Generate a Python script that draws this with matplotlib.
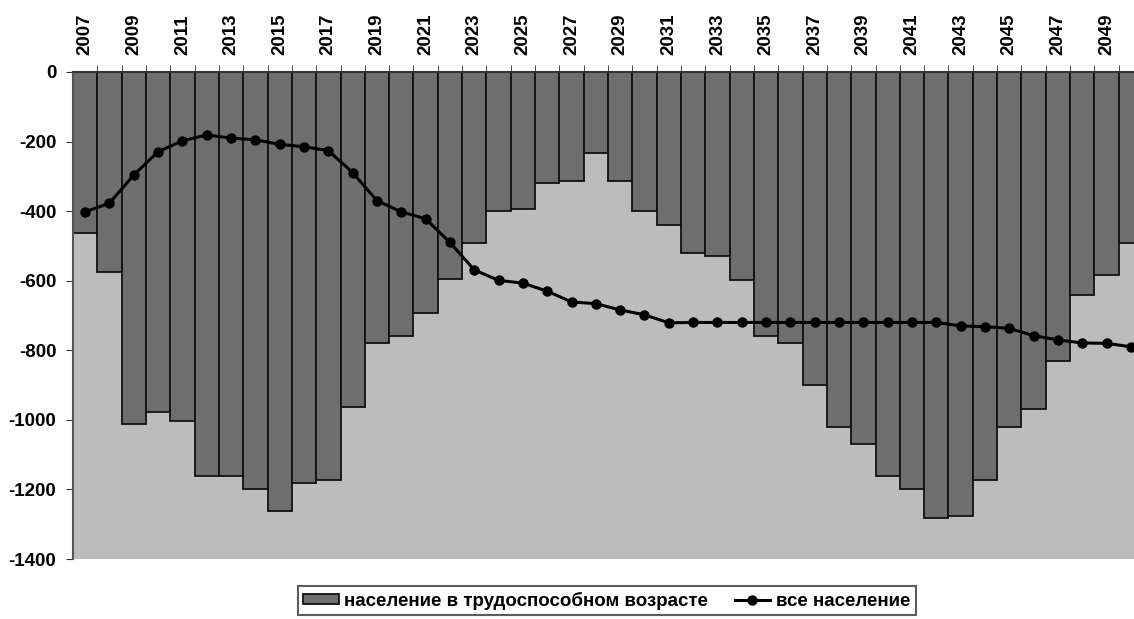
#!/usr/bin/env python3
"""Working-age vs total population change, 2007-2050 (bars + line)."""
import matplotlib
matplotlib.use("Agg")
import matplotlib.pyplot as plt
import numpy as np

years = list(range(2007, 2051))

working_age = [
    -463, -574, -1011, -978, -1002, -1161, -1161, -1199, -1262, -1181,
    -1172, -962, -779, -758, -693, -596, -491, -401, -393, -318,
    -314, -233, -314, -401, -440, -521, -528, -598, -759, -780,
    -899, -1020, -1069, -1160, -1199, -1282, -1276, -1172, -1020, -970,
    -831, -641, -583, -493,
]

total = [
    -402, -377, -296, -229, -198, -181, -190, -195, -208, -215,
    -226, -289, -370, -402, -422, -490, -569, -599, -607, -630,
    -661, -666, -684, -698, -721, -720, -720, -720, -720, -720,
    -720, -720, -720, -720, -720, -720, -730, -732, -737, -758,
    -770, -779, -780, -790,
]

bar_label = "население в трудоспособном возрасте"
line_label = "все население"

plt.rcParams["font.family"] = ["Liberation Sans", "DejaVu Sans"]
plt.rcParams["font.weight"] = "bold"
FS = 13.5

fig = plt.figure(figsize=(11.34, 6.19), dpi=100)
# plot area runs a little past the right edge, as in the cropped original
ax = fig.add_axes([73 / 1134, 1 - 559 / 619, 1070 / 1134, 487 / 619])
ax.set_facecolor("#bcbcbc")

x = np.arange(len(years))
bars = ax.bar(x, working_age, width=1.0, color="#6e6e6e", edgecolor="#111111",
              linewidth=1.3, label=bar_label, zorder=2)
line, = ax.plot(x, total, color="black", linewidth=2.2, marker="o",
                markersize=6.5, label=line_label, zorder=3)

ax.set_xlim(-0.5, len(years) - 0.5)
ax.set_ylim(-1400, 0)
ax.set_yticks(range(-1400, 1, 200))
ax.set_yticklabels([str(v) for v in range(-1400, 1, 200)], fontsize=FS)

ax.xaxis.tick_top()
ax.set_xticks(x[::2])
ax.set_xticklabels([str(y) for y in years[::2]], rotation=90, fontsize=FS)
ax.set_xticks(x[:-1] + 0.5, minor=True)
ax.tick_params(axis="x", which="minor", length=5, color="#333333")
ax.tick_params(axis="x", which="major", length=0, pad=12)
ax.tick_params(axis="y", length=5, color="#333333", pad=7)

for side in ["right", "bottom"]:
    ax.spines[side].set_visible(False)
ax.spines["top"].set_color("#333333")
ax.spines["top"].set_linewidth(1.5)
ax.spines["left"].set_color("#555555")
ax.spines["left"].set_linewidth(1.5)

leg = fig.legend([bars, line], [bar_label, line_label],
                 loc="upper center", bbox_to_anchor=(0.535, 1 - 586 / 619),
                 ncol=2, fontsize=FS, frameon=True, fancybox=False,
                 edgecolor="#333333", handlelength=1.9, handleheight=0.5,
                 handletextpad=0.3, columnspacing=1.4, borderpad=0.3,
                 borderaxespad=0)
leg.get_frame().set_linewidth(1.5)

fig.savefig("out.png", dpi=100)
